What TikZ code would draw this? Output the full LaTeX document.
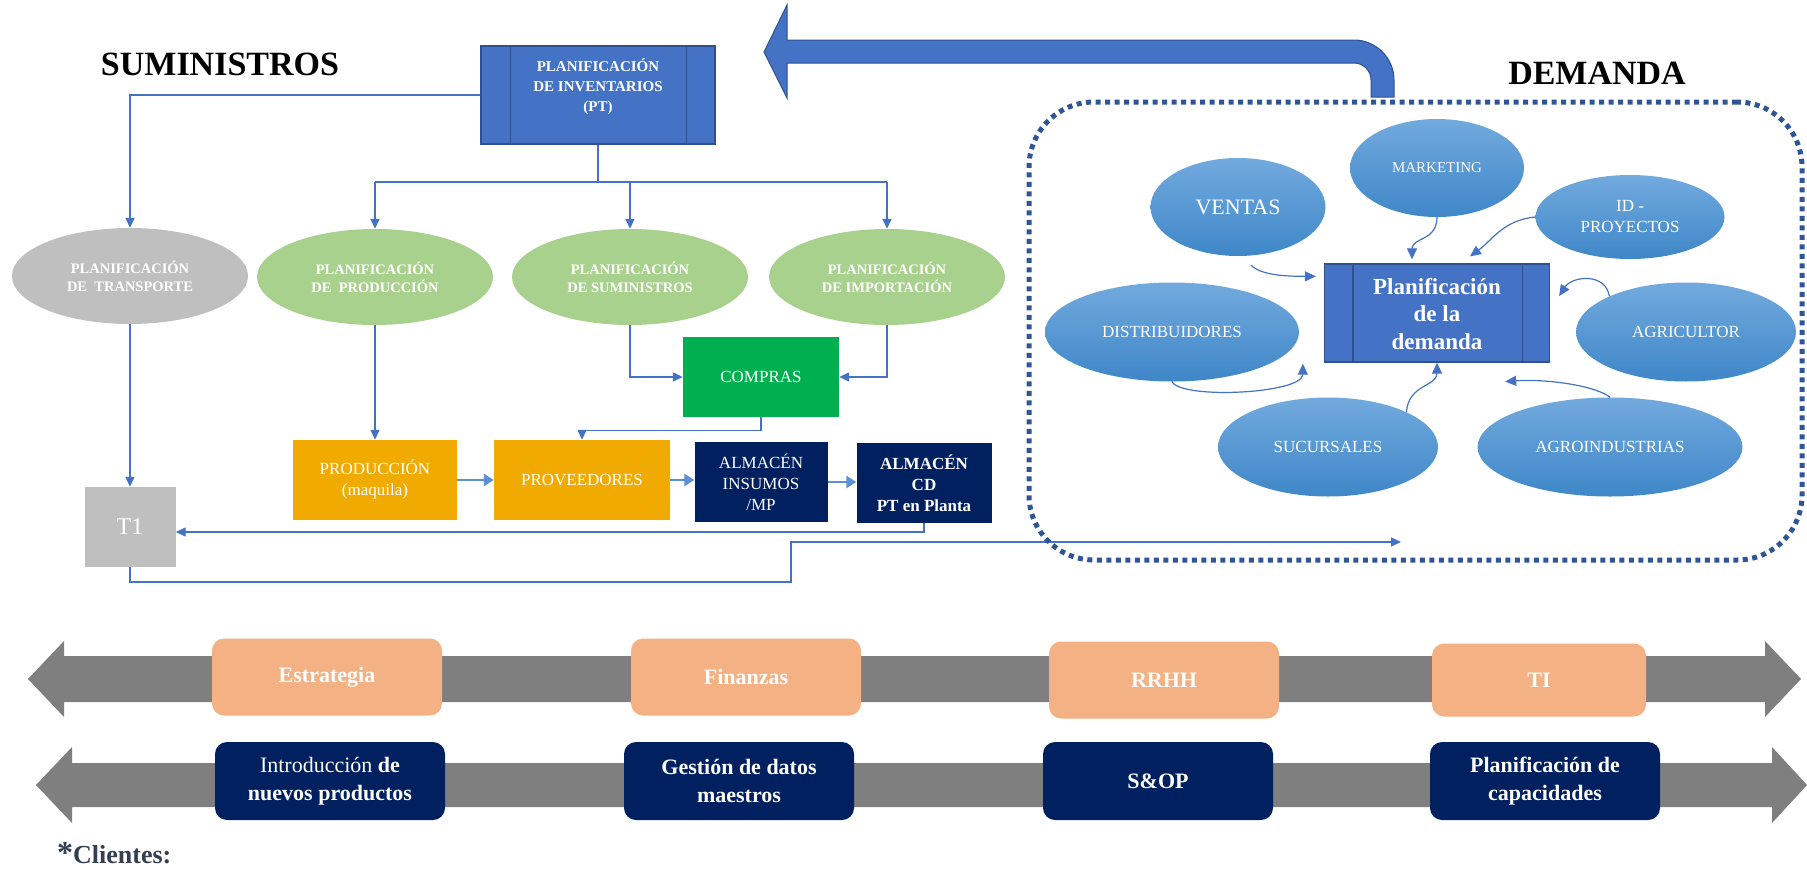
\documentclass[tikz,border=0pt]{standalone}
\usepackage{fontspec}
\setmainfont{Liberation Serif}
\usetikzlibrary{shapes.geometric,arrows.meta,calc}

\definecolor{cblue}{HTML}{4472C4}
\definecolor{cdark}{HTML}{2F528F}
\definecolor{cdot}{HTML}{2F5597}
\definecolor{cflow}{HTML}{5B8FD6}
\definecolor{cgrayell}{HTML}{BFBFBF}
\definecolor{cgreen}{HTML}{A9D18E}
\definecolor{ccompras}{HTML}{00B050}
\definecolor{corange}{HTML}{F0AA00}
\definecolor{cnavy}{HTML}{002060}
\definecolor{csalmon}{HTML}{F4B183}
\definecolor{cband}{HTML}{7F7F7F}
\definecolor{celltop}{HTML}{72AADE}
\definecolor{cellbot}{HTML}{3F87C8}
\definecolor{cnote}{HTML}{333F50}

\begin{document}
\begin{tikzpicture}[x=1pt,y=-1pt,
  conn/.style={draw=cblue, line width=1.3pt},
  arr/.style={conn, -{Triangle[length=10pt,width=9pt]}},
  flow/.style={draw=cflow, line width=2.6pt, -{Triangle[length=10pt,width=12pt]}},
  planell/.style={ellipse, inner sep=0pt, minimum width=236pt, minimum height=96pt,
    text=white, align=center, font=\fontsize{14.5}{18}\selectfont\bfseries},
  grayell/.style={planell, fill=cgrayell},
  greenell/.style={planell, fill=cgreen},
  opbox/.style={rectangle, inner sep=0pt, minimum height=80pt, text=white,
    align=center, font=\fontsize{17}{21}\selectfont},
  procbox/.style={rectangle, inner sep=0pt, fill=cblue, draw=cdark, line width=1.3pt},
  dell/.style={ellipse, inner sep=0pt, top color=celltop, bottom color=cellbot,
    draw=none, text=white, align=center, font=\fontsize{17}{21}\selectfont},
  sbox/.style={rectangle, rounded corners=12pt, fill=csalmon, text=white,
    minimum width=230pt, minimum height=77pt, font=\fontsize{22}{26}\selectfont\bfseries},
  nbox/.style={rectangle, rounded corners=12pt, fill=cnavy, text=white, align=center,
    minimum width=230pt, minimum height=78pt, font=\fontsize{22}{28}\selectfont\bfseries},
  head/.style={font=\fontsize{34}{40}\selectfont\bfseries},
  dotbox/.style={draw=cdot, line width=5pt, dash pattern=on 5pt off 4.5pt,
    rounded corners=65pt, minimum width=773pt, minimum height=458pt, inner sep=0pt},
  band/.style={fill=cband, draw=none},
  curv/.style={draw=cblue, line width=1.2pt, -{Triangle[length=11pt,width=10pt]}}
]
\useasboundingbox (0,0) rectangle (1807,870);

% ---------- headings ----------
\node[head] (hsum) at (220,64) {SUMINISTROS};
\node[head] (hdem) at (1597,73) {DEMANDA};

% ---------- return arrow from demand to supply ----------
\filldraw[fill=cblue, draw=cdark, line width=1pt]
  (764,52) -- (787,5) -- (787,40) -- (1354,40)
  .. controls (1376,40) and (1394,58) .. (1394,80)
  -- (1394,97) -- (1371,97) -- (1371,80)
  .. controls (1371,70.6) and (1363.4,63) .. (1354,63)
  -- (787,63) -- (787,98) -- cycle;

% ---------- supply side ----------
\node[procbox, minimum width=234pt, minimum height=98pt] (inv) at (598,95) {};
\draw[cdark, line width=1.3pt] ([shift={(30,0)}]inv.north west) -- ([shift={(30,0)}]inv.south west);
\draw[cdark, line width=1.3pt] ([shift={(-29,0)}]inv.north east) -- ([shift={(-29,0)}]inv.south east);
\node[text=white, align=center, font=\fontsize{15}{20}\selectfont\bfseries] (invt) at (598,87)
  {PLANIFICACIÓN\\DE INVENTARIOS\\(PT)};

\node[grayell]  (tra) at (130,276) {PLANIFICACIÓN\\DE~~TRANSPORTE};
\node[greenell] (pro) at (375,277) {PLANIFICACIÓN\\DE~~PRODUCCIÓN};
\node[greenell] (sum) at (630,277) {PLANIFICACIÓN\\DE SUMINISTROS};
\node[greenell] (imp) at (887,277) {PLANIFICACIÓN\\DE IMPORTACIÓN};

\node[opbox, fill=ccompras, minimum width=156pt] (com) at (761,377) {COMPRAS};
\node[opbox, fill=corange, minimum width=164pt] (prod) at (375,480) {PRODUCCIÓN\\(maquila)};
\node[opbox, fill=corange, minimum width=176pt] (prov) at (582,480) {PROVEEDORES};
\node[opbox, fill=cnavy, minimum width=133pt] (ins) at (761,482) {ALMACÉN\\INSUMOS\\/MP};
\node[opbox, fill=cnavy, minimum width=135pt, font=\fontsize{17}{21}\selectfont\bfseries] (cd) at (924,483)
  {ALMACÉN\\CD\\PT en Planta};
\node[opbox, fill=cgrayell, minimum width=91pt, font=\fontsize{24}{28}\selectfont] (t1) at (130,527) {T1};

% connectors from inventory planning
\coordinate (busL) at (375,182);
\coordinate (busR) at (887,182);
\draw[arr] (inv.west) -| (tra.north);
\draw[conn] (inv.south) -- (inv.south |- busL);
\draw[conn] (busL) -- (busR);
\draw[arr] (busL) -- (pro.north);
\draw[arr] (sum.north |- busL) -- (sum.north);
\draw[arr] (busR) -- (imp.north);

% planning to operations
\draw[arr] (tra.south) -- (t1.north);
\draw[arr] (pro.south) -- (prod.north);
\draw[arr] (sum.south) |- (com.west);
\draw[arr] (imp.south) |- (com.east);
\draw[arr] (com.south) -- ++(0,13) -| (prov.north);

% material flow
\draw[flow] (prod.east) -- (prov.west);
\draw[flow] (prov.east) -- (prov.east -| ins.west);
\draw[flow] (ins.east) -- (ins.east -| cd.west);

% finished goods back to transport and on to demand
\coordinate (dem) at (1401,542);
\draw[arr] (cd.south) |- ([shift={(0,5)}]t1.east);
\draw[arr] (t1.south) |- (791,582) |- (dem);

% ---------- demand side ----------
\node[dotbox] (demfr) at (1415.5,331) {};

\node[procbox, minimum width=225pt, minimum height=98pt] (pd) at (1437,313) {};
\draw[cdark, line width=1.3pt] ([shift={(29,0)}]pd.north west) -- ([shift={(29,0)}]pd.south west);
\draw[cdark, line width=1.3pt] ([shift={(-28,0)}]pd.north east) -- ([shift={(-28,0)}]pd.south east);
\node[text=white, align=center, font=\fontsize{23}{27.5}\selectfont\bfseries] (pdt) at (1437,314)
  {Planificación\\de la\\demanda};

\node[dell, minimum width=174pt, minimum height=98pt] (mkt) at (1437,168) {\fontsize{15}{18}\selectfont MARKETING};
\node[dell, minimum width=175pt, minimum height=98pt] (ven) at (1238,207) {\fontsize{22}{26}\selectfont VENTAS};
\node[dell, minimum width=189pt, minimum height=84pt] (idp) at (1630,217) {ID -\\PROYECTOS};
\node[dell, minimum width=254pt, minimum height=99pt] (dis) at (1172,332) {DISTRIBUIDORES};
\node[dell, minimum width=220pt, minimum height=99pt] (agr) at (1686,332) {AGRICULTOR};
\node[dell, minimum width=220pt, minimum height=99pt] (suc) at (1328,447) {SUCURSALES};
\node[dell, minimum width=265pt, minimum height=99pt] (agi) at (1610,447) {AGROINDUSTRIAS};

\draw[curv] ([shift={(13,9)}]ven.south) .. controls +(10,10) and +(-30,0) .. ([shift={(-8,13)}]pd.north west);
\draw[curv] (mkt.south) .. controls +(0,24) and +(0,-22) .. ([shift={(-25,-4)}]pd.north);
\draw[curv] (idp.west) .. controls +(-32,3) and +(22,-16) .. ([shift={(33,-7)}]pd.north);
\draw[curv] (agr.155) .. controls +(-4,-24) and +(13,-20) .. ([shift={(9,-17)}]pd.east);
\draw[curv] (dis.south) .. controls +(10,18) and +(0,30) .. ([shift={(-21,1)}]pd.south west);
\draw[curv] (suc.24) .. controls +(2,-28) and +(0,24) .. (pd.south);
\draw[curv] (agi.north) .. controls +(-15,-12) and +(40,-3) .. ([shift={(-45,19)}]pd.south east);

% ---------- support bands ----------
\fill[band] (28,679) -- (64,641) -- (64,656) -- (1765,656) -- (1765,641) -- (1801,679)
  -- (1765,717) -- (1765,702) -- (64,702) -- (64,717) -- cycle;
\fill[band] (36,785) -- (72,747) -- (72,763) -- (1772,763) -- (1772,747) -- (1807,785)
  -- (1772,823) -- (1772,807) -- (72,807) -- (72,823) -- cycle;

\node[sbox] (est) at (327,677) {Estrategia};
\node[sbox] (fin) at (746,677) {Finanzas};
\node[sbox] (rrhh) at (1164,680) {RRHH};
\node[sbox, minimum width=214pt, minimum height=73pt] (ti) at (1539,680) {TI};

\node[nbox] (intro) at (330,781) {{\mdseries Introducción} de\\nuevos productos};
\node[nbox] (gest) at (739,781) {Gestión de datos\\maestros};
\node[nbox] (sop) at (1158,781) {S\&OP};
\node[nbox] (cap) at (1545,781) {Planificación de\\capacidades};

\node[anchor=base west, text=cnote, inner sep=0pt, font=\fontsize{26}{30}\selectfont\bfseries] (cli) at (57,863)
  {{\fontsize{32}{32}\selectfont *}Clientes:};
\end{tikzpicture}
\end{document}
